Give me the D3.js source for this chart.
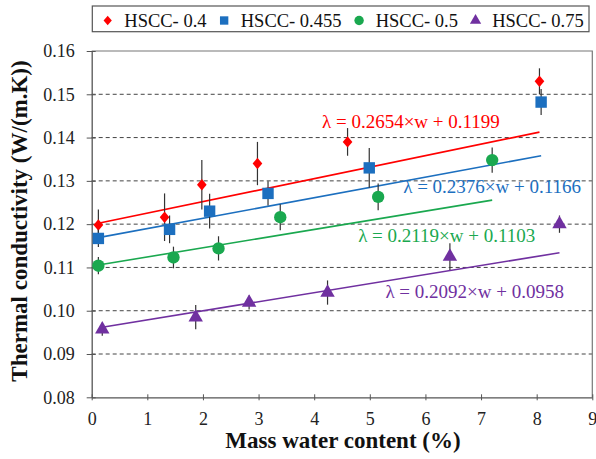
<!DOCTYPE html>
<html>
<head>
<meta charset="utf-8">
<script src="https://cdn.jsdelivr.net/npm/d3@7"></script>
<style>
  body { margin: 0; background: #fff; }
  svg text { font-family: "Liberation Serif", "DejaVu Serif", serif; }
</style>
</head>
<body>
<svg width="596" height="459"></svg>
<script>
// wider diamond than d3's default
var wideDiamond = {
    draw: function(ctx, size) {
        var h = Math.sqrt(size / 1.7), w = h * 0.85;
        ctx.moveTo(0, -h);
        ctx.lineTo(w, 0);
        ctx.lineTo(0, h);
        ctx.lineTo(-w, 0);
        ctx.closePath();
    }
};

// series names and colours
var seriesNames = ["HSCC- 0.4", "HSCC- 0.455", "HSCC- 0.5", "HSCC- 0.75"];
var seriesColors = ["#ff0000", "#1c6fbf", "#1aa84f", "#7030a0"];
var seriesShapes = [wideDiamond, d3.symbolSquare, d3.symbolCircle, d3.symbolTriangle];

// mass water content (%) per point
var xRed    = [0.12, 1.31, 1.98, 2.98, 4.60, 8.05];
var xBlue   = [0.12, 1.40, 2.12, 3.17, 4.99, 8.08];
var xGreen  = [0.12, 1.47, 2.28, 3.39, 5.15, 7.20];
var xPurple = [0.19, 1.87, 2.83, 4.24, 6.44, 8.41];

// thermal conductivity W/(m.K)
var yRed    = [0.1198, 0.1216, 0.1291, 0.1340, 0.1390, 0.1530];
var yBlue   = [0.1167, 0.1188, 0.1230, 0.1271, 0.1330, 0.1482];
var yGreen  = [0.1104, 0.1123, 0.1144, 0.1216, 0.1263, 0.1348];
var yPurple = [0.0957, 0.0985, 0.1019, 0.1042, 0.1125, 0.1200];

// error bar half widths
var eRed    = [0.0036, 0.0055, 0.0057, 0.0050, 0.0032, 0.0030];
var eBlue   = [0.0020, 0.0032, 0.0040, 0.0028, 0.0046, 0.0030];
var eGreen  = [0.0020, 0.0025, 0.0028, 0.0030, 0.0031, 0.0029];
var ePurple = [0.0015, 0.0028, 0.0016, 0.0028, 0.0031, 0.0020];

// linear fits: lambda = slope * w + intercept (w as fraction)
var fitSlope     = [0.2654, 0.2376, 0.2119, 0.2092];
var fitIntercept = [0.1199, 0.1166, 0.1103, 0.0958];
var fitLabels = ["λ = 0.2654×w + 0.1199", "λ = 0.2376×w + 0.1166",
                 "λ = 0.2119×w + 0.1103", "λ = 0.2092×w + 0.0958"];
// label anchor (x in %, baseline y in W/(m.K))
var labelX = [4.14, 5.60, 4.79, 5.28];
var labelY = [0.1422, 0.1272, 0.1159, 0.1029];

var xTicks = [0, 1, 2, 3, 4, 5, 6, 7, 8, 9];
var yTicks = [0.08, 0.09, 0.10, 0.11, 0.12, 0.13, 0.14, 0.15, 0.16];

var xs = [xRed, xBlue, xGreen, xPurple];
var ys = [yRed, yBlue, yGreen, yPurple];
var es = [eRed, eBlue, eGreen, ePurple];

var FONT = "'Liberation Serif', 'DejaVu Serif', serif";
var svg = d3.select("svg");
var margin = {left: 91.7, right: 596 - 592.3, top: 51, bottom: 459 - 397.3};
var W = 596, H = 459;

var x = d3.scaleLinear().domain([0, 9]).range([margin.left, W - margin.right]);
var y = d3.scaleLinear().domain([0.08, 0.16]).range([H - margin.bottom, margin.top]);

// grid
svg.append("g").selectAll("line")
    .data(yTicks.slice(1, -1))
    .enter().append("line")
    .attr("x1", x(0)).attr("x2", x(9))
    .attr("y1", function(d) { return y(d); })
    .attr("y2", function(d) { return y(d); })
    .attr("stroke", "#444")
    .attr("stroke-width", 1)
    .attr("stroke-dasharray", "4,3");

// frame top/right
svg.append("path")
    .attr("d", "M" + x(0) + "," + y(0.16) + "H" + x(9) + "V" + y(0.08))
    .attr("fill", "none")
    .attr("stroke", "#777")
    .attr("stroke-width", 1.2);

// axes
var xAxis = svg.append("g")
    .attr("transform", "translate(0," + y(0.08) + ")")
    .call(d3.axisBottom(x).tickValues(xTicks).tickSize(0).tickPadding(15).tickFormat(d3.format("d")));
xAxis.selectAll(".tick").append("line")
    .attr("y1", -3).attr("y2", 3).attr("stroke", "#555");
var yAxis = svg.append("g")
    .attr("transform", "translate(" + x(0) + ",0)")
    .call(d3.axisLeft(y).tickValues(yTicks).tickSize(0).tickPadding(17).tickFormat(d3.format(".2f")));
yAxis.selectAll(".tick").append("line")
    .attr("x1", -5).attr("x2", 4).attr("stroke", "#555");
svg.selectAll(".domain").attr("stroke", "#555").attr("stroke-width", 1.3);
xAxis.attr("font-family", FONT);
yAxis.attr("font-family", FONT);
svg.selectAll(".tick text")
    .attr("font-family", FONT)
    .attr("font-size", 18)
    .attr("fill", "#222");

// axis titles
svg.append("text")
    .attr("x", 343)
    .attr("y", 448)
    .attr("text-anchor", "middle")
    .attr("font-family", FONT)
    .attr("font-weight", "bold")
    .attr("font-size", 23)
    .attr("fill", "#111")
    .text("Mass water content (%)");
svg.append("text")
    .attr("transform", "translate(27,221) rotate(-90)")
    .attr("text-anchor", "middle")
    .attr("font-family", FONT)
    .attr("font-weight", "bold")
    .attr("font-size", 23)
    .attr("fill", "#111")
    .text("Thermal conductivity (W/(m.K))");

// fit lines
seriesNames.forEach(function(name, i) {
    var x0 = d3.min(xs[i]), x1 = d3.max(xs[i]);
    var pts = [x0, x1].map(function(w) { return [w, fitSlope[i] * w / 100 + fitIntercept[i]]; });
    svg.append("path")
        .attr("d", d3.line().x(function(d) { return x(d[0]); }).y(function(d) { return y(d[1]); })(pts))
        .attr("stroke", seriesColors[i])
        .attr("stroke-width", 1.6)
        .attr("fill", "none");
});

// error bars + markers
seriesNames.forEach(function(name, i) {
    var data = xs[i].map(function(v, j) { return {x: v, y: ys[i][j], e: es[i][j]}; });
    var g = svg.append("g");
    g.selectAll("line")
        .data(data)
        .enter().append("line")
        .attr("x1", function(d) { return x(d.x); })
        .attr("x2", function(d) { return x(d.x); })
        .attr("y1", function(d) { return y(d.y - d.e); })
        .attr("y2", function(d) { return y(d.y + d.e); })
        .attr("stroke", "#333")
        .attr("stroke-width", 1.2);
    var sizes = [55, 130, 120, 90];
    g.selectAll("path")
        .data(data)
        .enter().append("path")
        .attr("transform", function(d) { return "translate(" + x(d.x) + "," + y(d.y) + ")"; })
        .attr("d", d3.symbol().type(seriesShapes[i]).size(sizes[i]))
        .attr("fill", seriesColors[i]);
});

// equation labels
svg.append("g").selectAll("text")
    .data(fitLabels)
    .enter().append("text")
    .attr("x", function(d, i) { return x(labelX[i]); })
    .attr("y", function(d, i) { return y(labelY[i]); })
    .attr("font-family", FONT)
    .attr("font-size", 19)
    .attr("fill", function(d, i) { return seriesColors[i]; })
    .text(function(d) { return d; });

// legend
var legend = svg.append("g");
legend.append("rect")
    .attr("x", 92.3).attr("y", 6)
    .attr("width", 589 - 92.3).attr("height", 25.7)
    .attr("fill", "#fff")
    .attr("stroke", "#555")
    .attr("stroke-width", 1.2);
var cx = 107.7;
var legendSizes = [40, 70, 70, 55];
seriesNames.forEach(function(name, i) {
    legend.append("path")
        .attr("transform", "translate(" + cx + ",20.5)")
        .attr("d", d3.symbol().type(seriesShapes[i]).size(legendSizes[i]))
        .attr("fill", seriesColors[i]);
    var t = legend.append("text")
        .attr("x", cx + 16.6)
        .attr("y", 26.5)
        .attr("font-family", FONT)
        .attr("font-size", 18.5)
        .attr("fill", "#111")
        .text(name);
    cx = cx + 16.6 + t.node().getComputedTextLength() + 17.6;
});
</script>
</body>
</html>
